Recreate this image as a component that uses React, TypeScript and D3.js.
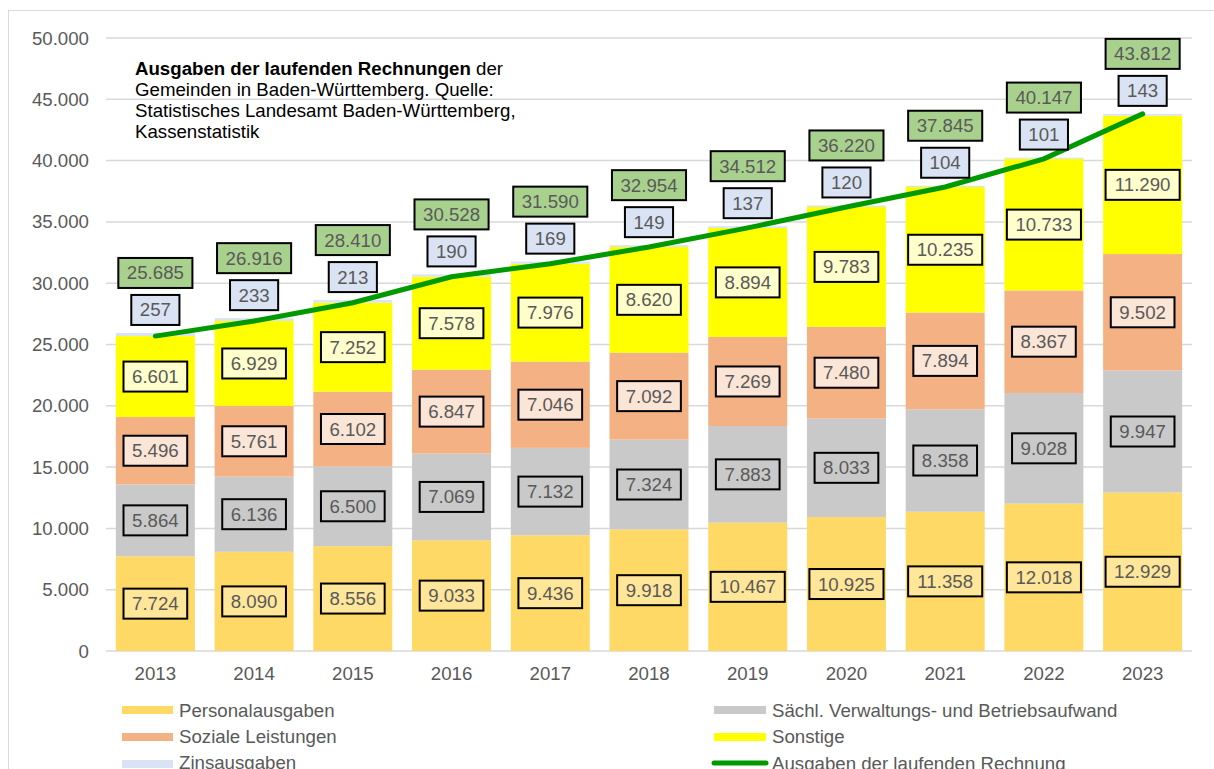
import React from 'react';
import * as d3 from 'd3';

const years = ['2013', '2014', '2015', '2016', '2017', '2018', '2019', '2020', '2021', '2022', '2023'];
const personal = [7724, 8090, 8556, 9033, 9436, 9918, 10467, 10925, 11358, 12018, 12929];
const saechl = [5864, 6136, 6500, 7069, 7132, 7324, 7883, 8033, 8358, 9028, 9947];
const soziale = [5496, 5761, 6102, 6847, 7046, 7092, 7269, 7480, 7894, 8367, 9502];
const sonstige = [6601, 6929, 7252, 7578, 7976, 8620, 8894, 9783, 10235, 10733, 11290];
const zins = [257, 233, 213, 190, 169, 149, 137, 120, 104, 101, 143];
const gesamt = [25685, 26916, 28410, 30528, 31590, 32954, 34512, 36220, 37845, 40147, 43812];
const yTicks = [0, 5000, 10000, 15000, 20000, 25000, 30000, 35000, 40000, 45000, 50000];

const series = [
  { name: 'Personalausgaben', values: personal, color: '#FFD966', label: '#FFE699' },
  { name: 'Sächl. Verwaltungs- und Betriebsaufwand', values: saechl, color: '#C9C9C9', label: '#C9C9C9' },
  { name: 'Soziale Leistungen', values: soziale, color: '#F4B183', label: '#FBE5D6' },
  { name: 'Sonstige', values: sonstige, color: '#FFFF00', label: '#FFFFCC' },
  { name: 'Zinsausgaben', values: zins, color: '#DAE3F3', label: '#DAE3F3' },
];

const fmt = (v: number) => d3.format(',')(v).replace(/,/g, '.');
const font = 'Liberation Sans, Arial, sans-serif';
const textCol = '#595959';
const fs = 18.67;

const textW = (s: string) => {
  let w = 0;
  for (const c of s) w += c === '.' ? 0.278 : 0.556;
  return w * fs;
};

const Label = ({ x, y, v, fill }: { x: number; y: number; v: number; fill: string }) => {
  const s = fmt(v);
  const w = textW(s) + 17;
  return (
    <g>
      <rect x={x - w / 2} y={y - 15} width={w} height={30} fill={fill} stroke="#000" strokeWidth={2} />
      <text x={x} y={y} dy="0.35em" textAnchor="middle" fontSize={fs} fill={textCol}>{s}</text>
    </g>
  );
};

export default function App() {
  const W = 1214, H = 769;
  const x = d3.scaleBand().domain(years).range([106, 1192]).paddingInner(0.2).paddingOuter(0.1);
  const y = d3.scaleLinear().domain([0, 50000]).range([651, 38]);

  const stack = d3.stack<number>()
    .keys(series.map((_, i) => String(i)))
    .value((i, k) => series[+k].values[i]);
  const stacked = stack(years.map((_, i) => i));

  const line = d3.line<number>()
    .x((_, i) => x(years[i])! + x.bandwidth() / 2)
    .y(d => y(d));

  const legendLeft = [series[0], series[2], series[4]];
  const legendRight = [series[1], series[3]];

  return (
    <svg width={W} height={H} style={{ position: 'absolute', left: 0, top: 0, fontFamily: font }}>
      <rect x={8.5} y={10.5} width={1220} height={800} fill="#fff" stroke="#D9D9D9" strokeWidth={1} />
      {yTicks.map(t => (
        <g key={t}>
          <line x1={106} x2={1192} y1={y(t)} y2={y(t)} stroke="#D9D9D9" strokeWidth={1.5} />
          <text x={89} y={y(t)} dy="0.35em" textAnchor="end" fontSize={fs} fill={textCol}>{fmt(t)}</text>
        </g>
      ))}
      {stacked.map((layer, si) => (
        <g key={si}>
          {layer.map((d, i) => (
            <rect key={i} x={x(years[i])} width={x.bandwidth()} y={y(d[1])} height={y(d[0]) - y(d[1])} fill={series[si].color} />
          ))}
        </g>
      ))}
      {years.map(yr => (
        <text key={yr} x={x(yr)! + x.bandwidth() / 2} y={673} dy="0.35em" textAnchor="middle" fontSize={fs} fill={textCol}>{yr}</text>
      ))}
      <path d={line(gesamt) || ''} fill="none" stroke="#009900" strokeWidth={5} strokeLinecap="round" />
      {stacked.slice(0, 4).map((layer, si) => (
        <g key={si}>
          {layer.map((d, i) => (
            <Label key={i} x={x(years[i])! + x.bandwidth() / 2} y={y((d[0] + d[1]) / 2)} v={series[si].values[i]} fill={series[si].label} />
          ))}
        </g>
      ))}
      {stacked[4].map((d, i) => {
        const cx = x(years[i])! + x.bandwidth() / 2;
        const zy = y(d[1]) - 23;
        return (
          <g key={i}>
            <Label x={cx} y={zy} v={zins[i]} fill="#DAE3F3" />
            <Label x={cx} y={zy - 37} v={gesamt[i]} fill="#A9D18E" />
          </g>
        );
      })}
      <g fontSize={fs} fill="#000">
        <text x={135} y={68} dy="0.35em">
          <tspan fontWeight="bold">Ausgaben der laufenden Rechnungen</tspan> der
        </text>
        <text x={135} y={89} dy="0.35em">Gemeinden in Baden-Württemberg. Quelle:</text>
        <text x={135} y={110} dy="0.35em">Statistisches Landesamt Baden-Württemberg,</text>
        <text x={135} y={131} dy="0.35em">Kassenstatistik</text>
      </g>
      {legendLeft.map((s, i) => (
        <g key={s.name}>
          <rect x={122} y={706 + i * 27} width={51} height={8} fill={s.color} />
          <text x={179} y={710 + i * 26} dy="0.35em" fontSize={fs} fill={textCol}>{s.name}</text>
        </g>
      ))}
      {legendRight.map((s, i) => (
        <g key={s.name}>
          <rect x={714} y={706 + i * 27} width={52} height={8} fill={s.color} />
          <text x={772} y={710 + i * 26} dy="0.35em" fontSize={fs} fill={textCol}>{s.name}</text>
        </g>
      ))}
      <line x1={714} x2={766} y1={763} y2={763} stroke="#009900" strokeWidth={5} strokeLinecap="round" />
      <text x={772} y={763} dy="0.35em" fontSize={fs} fill={textCol}>Ausgaben der laufenden Rechnung</text>
    </svg>
  );
}
